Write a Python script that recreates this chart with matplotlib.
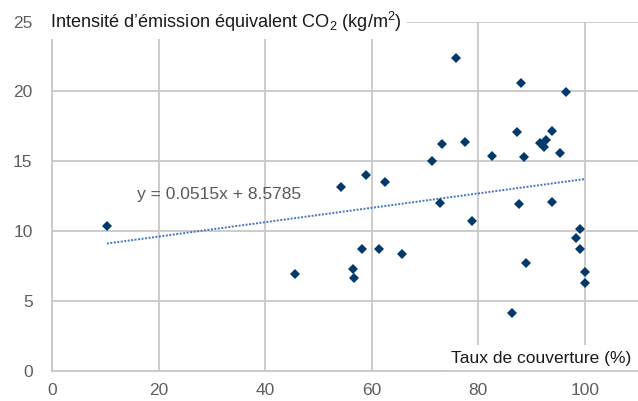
import matplotlib
matplotlib.use("Agg")
import matplotlib.pyplot as plt
import numpy as np

# Data
coverage = [10.3, 45.6, 54.2, 56.5, 56.7, 58.2, 58.9, 61.3, 62.5, 65.7,
            71.3, 72.9, 73.2, 75.8, 77.6, 78.9, 82.6, 86.4, 87.3, 87.6,
            88.0, 88.6, 88.9, 91.6, 92.3, 92.7, 93.8, 93.9, 95.4, 96.5,
            98.4, 99.1, 99.1, 100.0, 100.0]
intensity = [10.39, 6.93, 13.16, 7.29, 6.64, 8.72, 14.02, 8.70, 13.54, 8.38,
             15.02, 12.04, 16.22, 22.38, 16.36, 10.74, 15.38, 4.13, 17.08, 11.92,
             20.59, 15.33, 7.74, 16.29, 16.00, 16.50, 17.19, 12.08, 15.59, 19.94,
             9.53, 10.15, 8.72, 7.09, 6.26]
slope = 0.0515
intercept = 8.5785
x_ticks = [0, 20, 40, 60, 80, 100]
y_ticks = [0, 5, 10, 15, 20, 25]
equation_label = "y = 0.0515x + 8.5785"
y_title = "Intensité d’émission équivalent CO$_2$ (kg/m$^2$)"
x_title = "Taux de couverture (%)"

plt.rcParams['font.family'] = ['Liberation Sans', 'DejaVu Sans']
plt.rcParams['mathtext.fontset'] = 'custom'
plt.rcParams['mathtext.rm'] = 'Liberation Sans'

fig = plt.figure(figsize=(6.38, 4.01), dpi=100)
ax = fig.add_axes([52/638, 1 - 370.7/401, 1 - 52/638, (370.7 - 21.7)/401])
ax.set_xlim(0, 110)
ax.set_ylim(0, 25)

grid_c = '#c8c8c8'
ax.set_xticks(x_ticks)
ax.set_yticks(y_ticks)
ax.grid(True, color=grid_c, lw=1.3, zorder=0)
ax.set_axisbelow(True)
for s in ['top', 'right']:
    ax.spines[s].set_visible(False)
for s in ['left', 'bottom']:
    ax.spines[s].set_color(grid_c)
    ax.spines[s].set_linewidth(1.3)
    ax.spines[s].set_zorder(6)

ax.tick_params(length=0, labelsize=12.5, labelcolor='#5f5f5f')
ax.tick_params(axis='x', pad=9)
ax.tick_params(axis='y', pad=14)

# Trend line
xs = np.array([min(coverage), max(coverage)])
ax.plot(xs, slope * xs + intercept, color='#4472c4', lw=1.4, ls=(0, (1, 0.8)), zorder=3)

# Points
ax.plot(coverage, intensity, ls='none', marker='D', ms=5.6, mew=0,
        color='#043a6b', zorder=4)

ax.text(15.9, 12.59, equation_label, fontsize=12.5, color='#595959',
        ha='left', va='center', zorder=5)

ax.text(-0.4, 25, y_title, fontsize=13.1, color='#1a1a1a', ha='left', va='center',
        zorder=7, clip_on=False,
        bbox=dict(facecolor='white', edgecolor='none', pad=4))
ax.text(108.8, 0.9, x_title, fontsize=12.5, color='#1a1a1a', ha='right', va='center',
        zorder=5, bbox=dict(facecolor='white', edgecolor='none', pad=4))

fig.savefig('out.png', dpi=100)
